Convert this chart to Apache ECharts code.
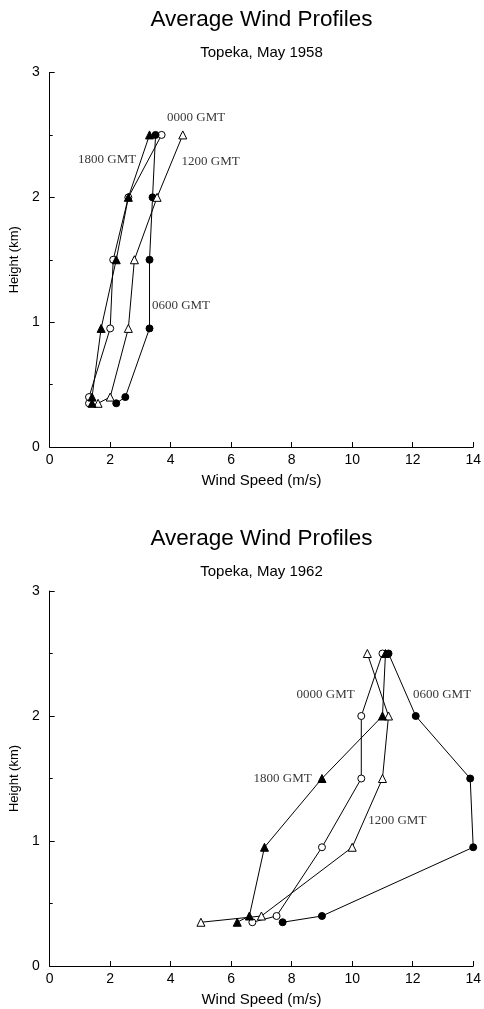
<!DOCTYPE html>
<html>
<head>
<meta charset="utf-8">
<script src="https://cdn.jsdelivr.net/npm/echarts@6/dist/echarts.min.js"></script>
<style>
  html, body { margin: 0; padding: 0; background: #ffffff; }
  #chart { width: 484px; height: 1009px; }
</style>
</head>
<body>
<div id="chart"></div>
<script>
// Observation heights (km) shared by every sounding profile
const heights = [0.35, 0.4, 0.95, 1.5, 2.0, 2.5];

// Average wind speed (m/s) at each height, Topeka, May 1958
const speeds1958_0000 = [1.3, 1.3, 2.0, 2.1, 2.6, 3.7];
const speeds1958_0600 = [2.2, 2.5, 3.3, 3.3, 3.4, 3.5];
const speeds1958_1200 = [1.6, 2.0, 2.6, 2.8, 3.55, 4.4];
const speeds1958_1800 = [1.4, 1.4, 1.7, 2.2, 2.6, 3.3];

// Average wind speed (m/s) at each height, Topeka, May 1962
const speeds1962_0000 = [6.7, 7.5, 9.0, 10.3, 10.3, 11.0];
const speeds1962_0600 = [7.7, 9.0, 14.0, 13.9, 12.1, 11.2];
const speeds1962_1200 = [5.0, 7.0, 10.0, 11.0, 11.2, 10.5];
const speeds1962_1800 = [6.2, 6.6, 7.1, 9.0, 11.0, 11.1];

// Axis ticks
const speedTicks = [0, 2, 4, 6, 8, 10, 12, 14];
const heightTicks = [0, 1, 2, 3];

const chartTitle = 'Average Wind Profiles';
const subtitles = ['Topeka, May 1958', 'Topeka, May 1962'];
const timeNames = ['0000 GMT', '0600 GMT', '1200 GMT', '1800 GMT'];

// Where each time label sits, in (speed, height) units
const labelSpots = [
  { '0000 GMT': [4.84, 2.64], '0600 GMT': [4.34, 1.13], '1200 GMT': [5.32, 2.29], '1800 GMT': [1.90, 2.30] },
  { '0000 GMT': [9.12, 2.17], '0600 GMT': [12.97, 2.17], '1200 GMT': [11.49, 1.16], '1800 GMT': [7.70, 1.50] }
];

const profiles = [
  [speeds1958_0000, speeds1958_0600, speeds1958_1200, speeds1958_1800],
  [speeds1962_0000, speeds1962_0600, speeds1962_1200, speeds1962_1800]
];

// Marker per observation time: open circle, filled circle, open triangle, filled triangle
const markers = [
  { symbol: 'circle', fill: '#ffffff' },
  { symbol: 'circle', fill: '#000000' },
  { symbol: 'triangle', fill: '#ffffff' },
  { symbol: 'triangle', fill: '#000000' }
];

const sans = '"Liberation Sans", Arial, sans-serif';
const serif = '"Liberation Serif", "Times New Roman", serif';

const plotLeft = 49, plotRight = 10, panelShift = 518.5;
const grids = [
  { left: plotLeft, right: plotRight, top: 72.5, height: 374.5 },
  { left: plotLeft, right: plotRight, top: 72.5 + panelShift, height: 375 }
];
const plotCenterX = plotLeft + (484 - plotLeft - plotRight) / 2;

function xAxisFor(i) {
  return {
    gridIndex: i, type: 'value',
    min: speedTicks[0], max: speedTicks[speedTicks.length - 1],
    interval: speedTicks[1] - speedTicks[0],
    name: 'Wind Speed (m/s)', nameLocation: 'middle', nameGap: 26,
    nameTextStyle: { fontFamily: sans, fontSize: 15, color: '#000' },
    axisLine: { show: true, onZero: false, lineStyle: { color: '#000', width: 1 } },
    axisTick: { show: true, inside: true, length: 5, lineStyle: { color: '#000' } },
    axisLabel: { margin: 6, fontFamily: sans, fontSize: 14, color: '#000' },
    splitLine: { show: false }
  };
}

function yAxisFor(i) {
  return {
    gridIndex: i, type: 'value',
    min: heightTicks[0], max: heightTicks[heightTicks.length - 1],
    interval: heightTicks[1] - heightTicks[0],
    name: 'Height (km)', nameLocation: 'middle', nameGap: 24,
    nameTextStyle: { fontFamily: sans, fontSize: 13, color: '#000' },
    axisLine: { show: true, onZero: false, lineStyle: { color: '#000', width: 1 } },
    axisTick: { show: true, inside: true, length: 5, lineStyle: { color: '#000' } },
    minorTick: { show: true, splitNumber: 2, length: 3, lineStyle: { color: '#000' } },
    axisLabel: { margin: 10, fontFamily: sans, fontSize: 14, color: '#000' },
    splitLine: { show: false }
  };
}

const series = [];
profiles.forEach(function (set, g) {
  set.forEach(function (speeds, k) {
    series.push({
      type: 'line', name: timeNames[k] + ' ' + g,
      xAxisIndex: g, yAxisIndex: g,
      data: speeds.map(function (s, j) { return [s, heights[j]]; }),
      symbol: markers[k].symbol,
      symbolSize: markers[k].symbol === 'circle' ? 7 : 8,
      showAllSymbol: true,
      lineStyle: { color: '#000', width: 1 },
      itemStyle: { color: markers[k].fill, borderColor: '#000', borderWidth: 1, opacity: 1 },
      emphasis: { disabled: true },
      z: 2 + k,
      animation: false
    });
  });
  // time labels beside the profiles
  series.push({
    type: 'scatter', xAxisIndex: g, yAxisIndex: g,
    symbolSize: 0, silent: true, animation: false,
    data: timeNames.map(function (t) {
      return { value: labelSpots[g][t], name: t };
    }),
    label: {
      show: true, position: 'inside', formatter: '{b}',
      fontFamily: serif, fontSize: 13, color: '#000'
    },
    z: 10
  });
});

// Panel headings, centred over each plot area
const headings = [];
[0, 1].forEach(function (g) {
  const off = g * panelShift;
  headings.push({
    type: 'text', x: plotCenterX, y: 20 + off, silent: true,
    style: {
      text: chartTitle, fill: '#000', font: '22.5px ' + sans,
      align: 'center', verticalAlign: 'middle',
      textAlign: 'center', textVerticalAlign: 'middle'
    }
  });
  headings.push({
    type: 'text', x: plotCenterX, y: 53 + off, silent: true,
    style: {
      text: subtitles[g], fill: '#000', font: '15px ' + sans,
      align: 'center', verticalAlign: 'middle',
      textAlign: 'center', textVerticalAlign: 'middle'
    }
  });
});

const chart = echarts.init(document.getElementById('chart'), null, { renderer: 'canvas' });
chart.setOption({
  backgroundColor: '#ffffff',
  animation: false,
  graphic: headings,
  grid: grids,
  xAxis: [xAxisFor(0), xAxisFor(1)],
  yAxis: [yAxisFor(0), yAxisFor(1)],
  series: series
});
</script>
</body>
</html>
